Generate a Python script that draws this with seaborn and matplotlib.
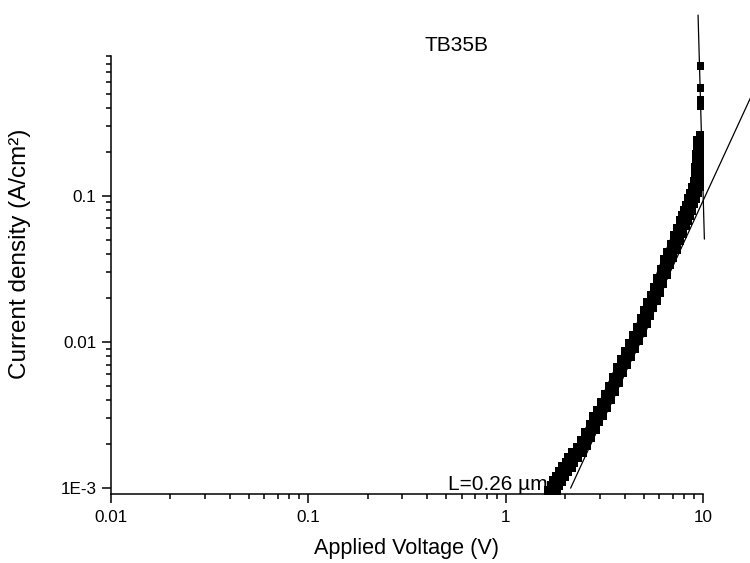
import numpy as np
import pandas as pd
import matplotlib
matplotlib.use("Agg")
import matplotlib.pyplot as plt
import matplotlib.ticker as mticker
import seaborn as sns

# ---- data ----
voltage = [1.70, 1.75, 1.80, 1.87, 1.93, 2.00, 2.08, 2.15, 2.25, 2.38,
           2.50, 2.62, 2.75, 2.88, 3.01, 3.15, 3.30, 3.45, 3.62, 3.80,
           3.98, 4.18, 4.38, 4.58, 4.80, 5.00, 5.20, 5.40, 5.62, 5.83,
           6.05, 6.30, 6.55, 6.80, 7.08, 7.35, 7.62, 7.90, 8.10, 8.28,
           8.50, 8.70, 8.90, 9.12, 9.25, 9.35, 9.42, 9.48, 9.55, 9.60,
           9.66]
current = [9.2e-4, 1.0e-3, 1.08e-3, 1.15e-3, 1.25e-3, 1.35e-3, 1.45e-3, 1.55e-3, 1.68e-3, 1.82e-3,
           2.05e-3, 2.3e-3, 2.6e-3, 2.95e-3, 3.26e-3, 3.7e-3, 4.2e-3, 4.8e-3, 5.5e-3, 6.41e-3,
           7.3e-3, 8.3e-3, 9.4e-3, 0.0107, 0.01205, 0.0138, 0.0158, 0.0178, 0.0201, 0.0226,
           0.0262, 0.0303, 0.0350, 0.0396, 0.0447, 0.0510, 0.0577, 0.0652, 0.0705, 0.0757,
           0.0830, 0.0920, 0.100, 0.109, 0.120, 0.135, 0.150, 0.167, 0.185, 0.205,
           0.229]
sparse_voltage = [9.68, 9.70, 9.70, 9.70, 9.70]
sparse_current = [0.26, 0.41, 0.45, 0.545, 0.77]

fit_steep_x = [9.41, 10.13]
fit_steep_y = [1.72, 0.0505]
fit_scl_x = [2.13, 20.0]
fit_scl_y = [1.0e-3, 0.71]

x_ticks = [0.01, 0.1, 1, 10]
x_ticklabels = ["0.01", "0.1", "1", "10"]
y_ticks = [1e-3, 0.01, 0.1]
y_ticklabels = ["1E-3", "0.01", "0.1"]

title = "TB35B"
annotation = "L=0.26 µm"
xlabel = "Applied Voltage (V)"
ylabel = "Current density (A/cm²)"

# ---- style ----
sns.set_theme(style="ticks")
plt.rcParams["font.family"] = ["Liberation Sans", "DejaVu Sans"]

fig = plt.figure(figsize=(7.5, 5.63), dpi=100)
ax = fig.add_axes([0.1476, 0.1226, 0.7901, 0.7776])

dense = pd.DataFrame({"V": voltage, "J": current})
sparse = pd.DataFrame({"V": sparse_voltage, "J": sparse_current})

sns.lineplot(data=dense, x="V", y="J", sort=False, color="black",
             linewidth=9, ax=ax, zorder=3)
sns.scatterplot(data=dense, x="V", y="J", marker="s", s=95, color="black",
                edgecolor="black", linewidth=0, ax=ax, zorder=4)
sns.scatterplot(data=sparse, x="V", y="J", marker="s", s=40, color="black",
                edgecolor="black", linewidth=0, ax=ax, zorder=4)

sns.lineplot(x=fit_steep_x, y=fit_steep_y, color="black", linewidth=0.9,
             ax=ax, zorder=5)
sns.lineplot(x=fit_scl_x, y=fit_scl_y, color="black", linewidth=0.9,
             ax=ax, zorder=5)
for ln in ax.get_lines()[1:]:
    ln.set_clip_on(False)

ax.set_xscale("log")
ax.set_yscale("log")
ax.set_xlim(0.01, 10)
ax.set_ylim(9.12e-4, 0.9)

ax.xaxis.set_major_locator(mticker.FixedLocator(x_ticks))
ax.xaxis.set_major_formatter(mticker.FixedFormatter(x_ticklabels))
ax.yaxis.set_major_locator(mticker.FixedLocator(y_ticks))
ax.yaxis.set_major_formatter(mticker.FixedFormatter(y_ticklabels))
ax.xaxis.set_minor_locator(mticker.LogLocator(base=10, subs=np.arange(2, 10), numticks=20))
ax.yaxis.set_minor_locator(mticker.LogLocator(base=10, subs=np.arange(2, 10), numticks=20))
ax.xaxis.set_minor_formatter(mticker.NullFormatter())
ax.yaxis.set_minor_formatter(mticker.NullFormatter())

for side in ["top", "right"]:
    ax.spines[side].set_visible(False)
for side in ["left", "bottom"]:
    ax.spines[side].set_linewidth(1.1)
    ax.spines[side].set_color("black")

ax.tick_params(which="major", direction="out", length=6.8, width=1.1,
               colors="black", labelsize=12.3)
ax.tick_params(which="minor", direction="out", length=3.6, width=1.1, colors="black")
ax.tick_params(axis="x", which="major", pad=5)
ax.tick_params(axis="y", which="major", pad=3.5)

ax.set_xlabel(xlabel, fontsize=15.6, color="black")
ax.set_ylabel(ylabel, fontsize=17.5, color="black")
ax.xaxis.set_label_coords(0.5, -0.1256)
ax.xaxis.label.set_va("center")
ax.yaxis.set_label_coords(-0.153, 0.548)
ax.yaxis.label.set_va("center")
ax.yaxis.label.set_ha("center")

ax.text(0.512, 9.7e-4, annotation, fontsize=15, ha="left", va="baseline",
        color="black", zorder=6)
fig.text(457 / 750, 1 - 45.5 / 563, title, fontsize=15, ha="center", va="center",
         color="black")

fig.savefig("out.png", dpi=100, facecolor="white")
